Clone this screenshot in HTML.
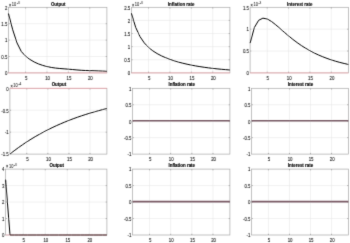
<!DOCTYPE html>
<html><head><meta charset="utf-8"><style>
html,body{margin:0;padding:0;background:#fff;width:350px;height:243px;overflow:hidden}
svg{display:block;font-family:"Liberation Sans",sans-serif}
</style></head><body>
<svg width="350" height="243" viewBox="0 0 350 243">
<defs><filter id="b" filterUnits="userSpaceOnUse" x="0" y="0" width="350" height="243"><feConvolveMatrix order="3" kernelMatrix="0.018 0.135 0.018 0.135 1 0.135 0.018 0.135 0.018" edgeMode="duplicate" preserveAlpha="false"/></filter></defs>
<rect width="350" height="243" fill="#fff"/>
<g filter="url(#b)">
<path d="M25.57 7.3V72.9M46.97 7.3V72.9M68.38 7.3V72.9M89.78 7.3V72.9M8.45 56.5H106.9M8.45 40.1H106.9M8.45 23.7H106.9" stroke="#e6e6e6" stroke-width="0.55" fill="none"/>
<path d="M25.57 72.9v-1.2M25.57 7.3v1.2M46.97 72.9v-1.2M46.97 7.3v1.2M68.38 72.9v-1.2M68.38 7.3v1.2M89.78 72.9v-1.2M89.78 7.3v1.2M8.45 56.5h1.2M106.9 56.5h-1.2M8.45 40.1h1.2M106.9 40.1h-1.2M8.45 23.7h1.2M106.9 23.7h-1.2" stroke="#777" stroke-width="0.6" fill="none"/>
<rect x="8.45" y="7.3" width="98.45" height="65.6" stroke="#a8a8a8" stroke-width="0.7" fill="none"/>
<polyline points="8.45,13.5 12.73,29.8 17.01,42.92 21.29,51.47 25.57,56.13 29.85,59.4 34.13,61.94 38.41,63.9 42.69,65.39 46.97,66.55 51.25,67.43 55.53,68.07 59.82,68.49 64.1,68.84 68.38,69.17 72.66,69.54 76.94,69.94 81.22,70.29 85.5,70.52 89.78,70.65 94.06,70.77 98.34,70.93 102.62,71.11 106.9,71.3" stroke="#000" stroke-width="1.0" fill="none" stroke-linejoin="round"/>
<path d="M8.45 72.9H106.9" stroke="rgb(255,150,160)" stroke-width="1.2" fill="none" opacity="0.45"/>
<path d="M148.53 7.3V72.9M169.94 7.3V72.9M191.36 7.3V72.9M212.77 7.3V72.9M131.4 59.78H229.9M131.4 46.66H229.9M131.4 33.54H229.9M131.4 20.42H229.9" stroke="#e6e6e6" stroke-width="0.55" fill="none"/>
<path d="M148.53 72.9v-1.2M148.53 7.3v1.2M169.94 72.9v-1.2M169.94 7.3v1.2M191.36 72.9v-1.2M191.36 7.3v1.2M212.77 72.9v-1.2M212.77 7.3v1.2M131.4 59.78h1.2M229.9 59.78h-1.2M131.4 46.66h1.2M229.9 46.66h-1.2M131.4 33.54h1.2M229.9 33.54h-1.2M131.4 20.42h1.2M229.9 20.42h-1.2" stroke="#777" stroke-width="0.6" fill="none"/>
<rect x="131.4" y="7.3" width="98.5" height="65.6" stroke="#a8a8a8" stroke-width="0.7" fill="none"/>
<polyline points="131.4,13.22 135.68,27.38 139.97,36.59 144.25,42.88 148.53,47.41 152.81,50.84 157.1,53.57 161.38,55.82 165.66,57.72 169.94,59.37 174.23,60.81 178.51,62.08 182.79,63.21 187.07,64.21 191.36,65.11 195.64,65.92 199.92,66.64 204.2,67.28 208.49,67.86 212.77,68.38 217.05,68.85 221.33,69.27 225.62,69.64 229.9,69.98" stroke="#000" stroke-width="1.0" fill="none" stroke-linejoin="round"/>
<path d="M131.4 72.9H229.9" stroke="rgb(255,150,160)" stroke-width="1.2" fill="none" opacity="0.45"/>
<path d="M267.2 7.3V72.9M288.57 7.3V72.9M309.93 7.3V72.9M331.3 7.3V72.9M250.1 51.03H348.4M250.1 29.17H348.4" stroke="#e6e6e6" stroke-width="0.55" fill="none"/>
<path d="M267.2 72.9v-1.2M267.2 7.3v1.2M288.57 72.9v-1.2M288.57 7.3v1.2M309.93 72.9v-1.2M309.93 7.3v1.2M331.3 72.9v-1.2M331.3 7.3v1.2M250.1 51.03h1.2M348.4 51.03h-1.2M250.1 29.17h1.2M348.4 29.17h-1.2" stroke="#777" stroke-width="0.6" fill="none"/>
<rect x="250.1" y="7.3" width="98.3" height="65.6" stroke="#a8a8a8" stroke-width="0.7" fill="none"/>
<polyline points="250.1,43.11 254.37,27.51 258.65,20.31 262.92,18.17 267.2,18.99 271.47,21.46 275.74,24.79 280.02,28.48 284.29,32.24 288.57,35.9 292.84,39.36 297.11,42.58 301.39,45.55 305.66,48.26 309.93,50.72 314.21,52.95 318.48,54.97 322.76,56.78 327.03,58.42 331.3,59.89 335.58,61.22 339.85,62.41 344.13,63.47 348.4,64.44" stroke="#000" stroke-width="1.0" fill="none" stroke-linejoin="round"/>
<path d="M250.1 72.9H348.4" stroke="rgb(255,150,160)" stroke-width="1.2" fill="none" opacity="0.45"/>
<path d="M26.77 88.3V154.1M47.86 88.3V154.1M68.94 88.3V154.1M90.03 88.3V154.1M9.9 132.17H106.9M9.9 110.23H106.9" stroke="#e6e6e6" stroke-width="0.55" fill="none"/>
<path d="M26.77 154.1v-1.2M26.77 88.3v1.2M47.86 154.1v-1.2M47.86 88.3v1.2M68.94 154.1v-1.2M68.94 88.3v1.2M90.03 154.1v-1.2M90.03 88.3v1.2M9.9 132.17h1.2M106.9 132.17h-1.2M9.9 110.23h1.2M106.9 110.23h-1.2" stroke="#777" stroke-width="0.6" fill="none"/>
<rect x="9.9" y="88.3" width="97" height="65.8" stroke="#a8a8a8" stroke-width="0.7" fill="none"/>
<polyline points="9.9,154.1 14.12,150.81 18.33,147.68 22.55,144.72 26.77,141.89 30.99,139.21 35.2,136.67 39.42,134.25 43.64,131.95 47.86,129.77 52.07,127.7 56.29,125.73 60.51,123.86 64.73,122.08 68.94,120.39 73.16,118.78 77.38,117.26 81.6,115.81 85.81,114.44 90.03,113.13 94.25,111.89 98.47,110.71 102.68,109.59 106.9,108.52" stroke="#000" stroke-width="1.0" fill="none" stroke-linejoin="round"/>
<path d="M9.9 88.3H106.9" stroke="rgb(255,150,160)" stroke-width="1.2" fill="none" opacity="0.45"/>
<path d="M149.52 88.3V154.1M170.67 88.3V154.1M191.83 88.3V154.1M212.98 88.3V154.1M132.6 137.65H229.9M132.6 121.2H229.9M132.6 104.75H229.9" stroke="#e6e6e6" stroke-width="0.55" fill="none"/>
<path d="M149.52 154.1v-1.2M149.52 88.3v1.2M170.67 154.1v-1.2M170.67 88.3v1.2M191.83 154.1v-1.2M191.83 88.3v1.2M212.98 154.1v-1.2M212.98 88.3v1.2M132.6 137.65h1.2M229.9 137.65h-1.2M132.6 121.2h1.2M229.9 121.2h-1.2M132.6 104.75h1.2M229.9 104.75h-1.2" stroke="#777" stroke-width="0.6" fill="none"/>
<rect x="132.6" y="88.3" width="97.3" height="65.8" stroke="#a8a8a8" stroke-width="0.7" fill="none"/>
<path d="M132.6 120.8H229.9" stroke="rgb(120,88,100)" stroke-width="1.6" fill="none"/>
<path d="M268.43 88.3V154.1M289.48 88.3V154.1M310.52 88.3V154.1M331.57 88.3V154.1M251.6 137.65H348.4M251.6 121.2H348.4M251.6 104.75H348.4" stroke="#e6e6e6" stroke-width="0.55" fill="none"/>
<path d="M268.43 154.1v-1.2M268.43 88.3v1.2M289.48 154.1v-1.2M289.48 88.3v1.2M310.52 154.1v-1.2M310.52 88.3v1.2M331.57 154.1v-1.2M331.57 88.3v1.2M251.6 137.65h1.2M348.4 137.65h-1.2M251.6 121.2h1.2M348.4 121.2h-1.2M251.6 104.75h1.2M348.4 104.75h-1.2" stroke="#777" stroke-width="0.6" fill="none"/>
<rect x="251.6" y="88.3" width="96.8" height="65.8" stroke="#a8a8a8" stroke-width="0.7" fill="none"/>
<path d="M251.6 120.8H348.4" stroke="rgb(120,88,100)" stroke-width="1.6" fill="none"/>
<path d="M23.22 169.1V235M45.24 169.1V235M67.26 169.1V235M89.28 169.1V235M5.6 218.53H106.9M5.6 202.05H106.9M5.6 185.57H106.9" stroke="#e6e6e6" stroke-width="0.55" fill="none"/>
<path d="M23.22 235v-1.2M23.22 169.1v1.2M45.24 235v-1.2M45.24 169.1v1.2M67.26 235v-1.2M67.26 169.1v1.2M89.28 235v-1.2M89.28 169.1v1.2M5.6 218.53h1.2M106.9 218.53h-1.2M5.6 202.05h1.2M106.9 202.05h-1.2M5.6 185.57h1.2M106.9 185.57h-1.2" stroke="#777" stroke-width="0.6" fill="none"/>
<rect x="5.6" y="169.1" width="101.3" height="65.9" stroke="#a8a8a8" stroke-width="0.7" fill="none"/>
<polyline points="5.6,179.64 10,235 14.41,235 18.81,235 23.22,235 27.62,235 32.03,235 36.43,235 40.83,235 45.24,235 49.64,235 54.05,235 58.45,235 62.86,235 67.26,235 71.67,235 76.07,235 80.47,235 84.88,235 89.28,235 93.69,235 98.09,235 102.5,235 106.9,235" stroke="#000" stroke-width="1.0" fill="none" stroke-linejoin="round"/>
<path d="M5.6 235H106.9" stroke="rgb(255,150,160)" stroke-width="1.2" fill="none" opacity="0.45"/>
<path d="M149.52 169.1V235M170.67 169.1V235M191.83 169.1V235M212.98 169.1V235M132.6 218.53H229.9M132.6 202.05H229.9M132.6 185.57H229.9" stroke="#e6e6e6" stroke-width="0.55" fill="none"/>
<path d="M149.52 235v-1.2M149.52 169.1v1.2M170.67 235v-1.2M170.67 169.1v1.2M191.83 235v-1.2M191.83 169.1v1.2M212.98 235v-1.2M212.98 169.1v1.2M132.6 218.53h1.2M229.9 218.53h-1.2M132.6 202.05h1.2M229.9 202.05h-1.2M132.6 185.57h1.2M229.9 185.57h-1.2" stroke="#777" stroke-width="0.6" fill="none"/>
<rect x="132.6" y="169.1" width="97.3" height="65.9" stroke="#a8a8a8" stroke-width="0.7" fill="none"/>
<path d="M132.6 201.65H229.9" stroke="rgb(120,88,100)" stroke-width="1.6" fill="none"/>
<path d="M268.43 169.1V235M289.48 169.1V235M310.52 169.1V235M331.57 169.1V235M251.6 218.53H348.4M251.6 202.05H348.4M251.6 185.57H348.4" stroke="#e6e6e6" stroke-width="0.55" fill="none"/>
<path d="M268.43 235v-1.2M268.43 169.1v1.2M289.48 235v-1.2M289.48 169.1v1.2M310.52 235v-1.2M310.52 169.1v1.2M331.57 235v-1.2M331.57 169.1v1.2M251.6 218.53h1.2M348.4 218.53h-1.2M251.6 202.05h1.2M348.4 202.05h-1.2M251.6 185.57h1.2M348.4 185.57h-1.2" stroke="#777" stroke-width="0.6" fill="none"/>
<rect x="251.6" y="169.1" width="96.8" height="65.9" stroke="#a8a8a8" stroke-width="0.7" fill="none"/>
<path d="M251.6 201.65H348.4" stroke="rgb(120,88,100)" stroke-width="1.6" fill="none"/>
<text transform="translate(26.17 79.8) scale(0.78 1)" text-anchor="middle" font-size="5.6" fill="#262626" stroke="#262626" stroke-width="0.12">5</text>
<text transform="translate(47.57 79.8) scale(0.78 1)" text-anchor="middle" font-size="5.6" fill="#262626" stroke="#262626" stroke-width="0.12">10</text>
<text transform="translate(68.98 79.8) scale(0.78 1)" text-anchor="middle" font-size="5.6" fill="#262626" stroke="#262626" stroke-width="0.12">15</text>
<text transform="translate(90.38 79.8) scale(0.78 1)" text-anchor="middle" font-size="5.6" fill="#262626" stroke="#262626" stroke-width="0.12">20</text>
<text transform="translate(7.35 75.2) scale(0.78 1)" text-anchor="end" font-size="5.6" fill="#262626" stroke="#262626" stroke-width="0.12">0</text>
<text transform="translate(7.35 58.8) scale(0.78 1)" text-anchor="end" font-size="5.6" fill="#262626" stroke="#262626" stroke-width="0.12">0.5</text>
<text transform="translate(7.35 42.4) scale(0.78 1)" text-anchor="end" font-size="5.6" fill="#262626" stroke="#262626" stroke-width="0.12">1</text>
<text transform="translate(7.35 26) scale(0.78 1)" text-anchor="end" font-size="5.6" fill="#262626" stroke="#262626" stroke-width="0.12">1.5</text>
<text transform="translate(7.35 9.6) scale(0.78 1)" text-anchor="end" font-size="5.6" fill="#262626" stroke="#262626" stroke-width="0.12">2</text>
<text transform="translate(58.18 5.5) scale(0.74 1)" text-anchor="middle" font-size="6.0" font-weight="bold" fill="#000" stroke="#000" stroke-width="0.18">Output</text>
<text transform="translate(8.95 6.5) scale(0.8 1)" text-anchor="start" font-size="5.0" fill="#262626" stroke="#262626" stroke-width="0.06">&#215;</text>
<text transform="translate(11.85 6.2) scale(0.8 1)" text-anchor="start" font-size="5.0" fill="#262626" stroke="#262626" stroke-width="0.06">10</text>
<text transform="translate(16.95 3.8) scale(0.8 1)" text-anchor="start" font-size="3.8" fill="#262626" stroke="#262626" stroke-width="0.06">-3</text>
<text transform="translate(149.13 79.8) scale(0.78 1)" text-anchor="middle" font-size="5.6" fill="#262626" stroke="#262626" stroke-width="0.12">5</text>
<text transform="translate(170.54 79.8) scale(0.78 1)" text-anchor="middle" font-size="5.6" fill="#262626" stroke="#262626" stroke-width="0.12">10</text>
<text transform="translate(191.96 79.8) scale(0.78 1)" text-anchor="middle" font-size="5.6" fill="#262626" stroke="#262626" stroke-width="0.12">15</text>
<text transform="translate(213.37 79.8) scale(0.78 1)" text-anchor="middle" font-size="5.6" fill="#262626" stroke="#262626" stroke-width="0.12">20</text>
<text transform="translate(130.3 75.2) scale(0.78 1)" text-anchor="end" font-size="5.6" fill="#262626" stroke="#262626" stroke-width="0.12">0</text>
<text transform="translate(130.3 62.08) scale(0.78 1)" text-anchor="end" font-size="5.6" fill="#262626" stroke="#262626" stroke-width="0.12">0.5</text>
<text transform="translate(130.3 48.96) scale(0.78 1)" text-anchor="end" font-size="5.6" fill="#262626" stroke="#262626" stroke-width="0.12">1</text>
<text transform="translate(130.3 35.84) scale(0.78 1)" text-anchor="end" font-size="5.6" fill="#262626" stroke="#262626" stroke-width="0.12">1.5</text>
<text transform="translate(130.3 22.72) scale(0.78 1)" text-anchor="end" font-size="5.6" fill="#262626" stroke="#262626" stroke-width="0.12">2</text>
<text transform="translate(130.3 9.6) scale(0.78 1)" text-anchor="end" font-size="5.6" fill="#262626" stroke="#262626" stroke-width="0.12">2.5</text>
<text transform="translate(181.15 5.5) scale(0.74 1)" text-anchor="middle" font-size="6.0" font-weight="bold" fill="#000" stroke="#000" stroke-width="0.18">Inflation rate</text>
<text transform="translate(131.9 6.5) scale(0.8 1)" text-anchor="start" font-size="5.0" fill="#262626" stroke="#262626" stroke-width="0.06">&#215;</text>
<text transform="translate(134.8 6.2) scale(0.8 1)" text-anchor="start" font-size="5.0" fill="#262626" stroke="#262626" stroke-width="0.06">10</text>
<text transform="translate(139.9 3.8) scale(0.8 1)" text-anchor="start" font-size="3.8" fill="#262626" stroke="#262626" stroke-width="0.06">-3</text>
<text transform="translate(267.8 79.8) scale(0.78 1)" text-anchor="middle" font-size="5.6" fill="#262626" stroke="#262626" stroke-width="0.12">5</text>
<text transform="translate(289.17 79.8) scale(0.78 1)" text-anchor="middle" font-size="5.6" fill="#262626" stroke="#262626" stroke-width="0.12">10</text>
<text transform="translate(310.53 79.8) scale(0.78 1)" text-anchor="middle" font-size="5.6" fill="#262626" stroke="#262626" stroke-width="0.12">15</text>
<text transform="translate(331.9 79.8) scale(0.78 1)" text-anchor="middle" font-size="5.6" fill="#262626" stroke="#262626" stroke-width="0.12">20</text>
<text transform="translate(249 75.2) scale(0.78 1)" text-anchor="end" font-size="5.6" fill="#262626" stroke="#262626" stroke-width="0.12">0</text>
<text transform="translate(249 53.33) scale(0.78 1)" text-anchor="end" font-size="5.6" fill="#262626" stroke="#262626" stroke-width="0.12">0.5</text>
<text transform="translate(249 31.47) scale(0.78 1)" text-anchor="end" font-size="5.6" fill="#262626" stroke="#262626" stroke-width="0.12">1</text>
<text transform="translate(249 9.6) scale(0.78 1)" text-anchor="end" font-size="5.6" fill="#262626" stroke="#262626" stroke-width="0.12">1.5</text>
<text transform="translate(299.75 5.5) scale(0.74 1)" text-anchor="middle" font-size="6.0" font-weight="bold" fill="#000" stroke="#000" stroke-width="0.18">Interest rate</text>
<text transform="translate(250.6 6.5) scale(0.8 1)" text-anchor="start" font-size="5.0" fill="#262626" stroke="#262626" stroke-width="0.06">&#215;</text>
<text transform="translate(253.5 6.2) scale(0.8 1)" text-anchor="start" font-size="5.0" fill="#262626" stroke="#262626" stroke-width="0.06">10</text>
<text transform="translate(258.6 3.8) scale(0.8 1)" text-anchor="start" font-size="3.8" fill="#262626" stroke="#262626" stroke-width="0.06">-3</text>
<text transform="translate(27.37 161) scale(0.78 1)" text-anchor="middle" font-size="5.6" fill="#262626" stroke="#262626" stroke-width="0.12">5</text>
<text transform="translate(48.46 161) scale(0.78 1)" text-anchor="middle" font-size="5.6" fill="#262626" stroke="#262626" stroke-width="0.12">10</text>
<text transform="translate(69.54 161) scale(0.78 1)" text-anchor="middle" font-size="5.6" fill="#262626" stroke="#262626" stroke-width="0.12">15</text>
<text transform="translate(90.63 161) scale(0.78 1)" text-anchor="middle" font-size="5.6" fill="#262626" stroke="#262626" stroke-width="0.12">20</text>
<text transform="translate(8.8 156.4) scale(0.78 1)" text-anchor="end" font-size="5.6" fill="#262626" stroke="#262626" stroke-width="0.12">-1.5</text>
<text transform="translate(8.8 134.47) scale(0.78 1)" text-anchor="end" font-size="5.6" fill="#262626" stroke="#262626" stroke-width="0.12">-1</text>
<text transform="translate(8.8 112.53) scale(0.78 1)" text-anchor="end" font-size="5.6" fill="#262626" stroke="#262626" stroke-width="0.12">-0.5</text>
<text transform="translate(8.8 90.6) scale(0.78 1)" text-anchor="end" font-size="5.6" fill="#262626" stroke="#262626" stroke-width="0.12">0</text>
<text transform="translate(58.9 86) scale(0.74 1)" text-anchor="middle" font-size="6.0" font-weight="bold" fill="#000" stroke="#000" stroke-width="0.18">Output</text>
<text transform="translate(10.4 87.5) scale(0.8 1)" text-anchor="start" font-size="5.0" fill="#262626" stroke="#262626" stroke-width="0.06">&#215;</text>
<text transform="translate(13.3 87.2) scale(0.8 1)" text-anchor="start" font-size="5.0" fill="#262626" stroke="#262626" stroke-width="0.06">10</text>
<text transform="translate(18.4 84.8) scale(0.8 1)" text-anchor="start" font-size="3.8" fill="#262626" stroke="#262626" stroke-width="0.06">-4</text>
<text transform="translate(150.12 161) scale(0.78 1)" text-anchor="middle" font-size="5.6" fill="#262626" stroke="#262626" stroke-width="0.12">5</text>
<text transform="translate(171.27 161) scale(0.78 1)" text-anchor="middle" font-size="5.6" fill="#262626" stroke="#262626" stroke-width="0.12">10</text>
<text transform="translate(192.43 161) scale(0.78 1)" text-anchor="middle" font-size="5.6" fill="#262626" stroke="#262626" stroke-width="0.12">15</text>
<text transform="translate(213.58 161) scale(0.78 1)" text-anchor="middle" font-size="5.6" fill="#262626" stroke="#262626" stroke-width="0.12">20</text>
<text transform="translate(131.5 156.4) scale(0.78 1)" text-anchor="end" font-size="5.6" fill="#262626" stroke="#262626" stroke-width="0.12">-1</text>
<text transform="translate(131.5 139.95) scale(0.78 1)" text-anchor="end" font-size="5.6" fill="#262626" stroke="#262626" stroke-width="0.12">-0.5</text>
<text transform="translate(131.5 123.5) scale(0.78 1)" text-anchor="end" font-size="5.6" fill="#262626" stroke="#262626" stroke-width="0.12">0</text>
<text transform="translate(131.5 107.05) scale(0.78 1)" text-anchor="end" font-size="5.6" fill="#262626" stroke="#262626" stroke-width="0.12">0.5</text>
<text transform="translate(131.5 90.6) scale(0.78 1)" text-anchor="end" font-size="5.6" fill="#262626" stroke="#262626" stroke-width="0.12">1</text>
<text transform="translate(181.75 86) scale(0.74 1)" text-anchor="middle" font-size="6.0" font-weight="bold" fill="#000" stroke="#000" stroke-width="0.18">Inflation rate</text>
<text transform="translate(269.03 161) scale(0.78 1)" text-anchor="middle" font-size="5.6" fill="#262626" stroke="#262626" stroke-width="0.12">5</text>
<text transform="translate(290.08 161) scale(0.78 1)" text-anchor="middle" font-size="5.6" fill="#262626" stroke="#262626" stroke-width="0.12">10</text>
<text transform="translate(311.12 161) scale(0.78 1)" text-anchor="middle" font-size="5.6" fill="#262626" stroke="#262626" stroke-width="0.12">15</text>
<text transform="translate(332.17 161) scale(0.78 1)" text-anchor="middle" font-size="5.6" fill="#262626" stroke="#262626" stroke-width="0.12">20</text>
<text transform="translate(250.5 156.4) scale(0.78 1)" text-anchor="end" font-size="5.6" fill="#262626" stroke="#262626" stroke-width="0.12">-1</text>
<text transform="translate(250.5 139.95) scale(0.78 1)" text-anchor="end" font-size="5.6" fill="#262626" stroke="#262626" stroke-width="0.12">-0.5</text>
<text transform="translate(250.5 123.5) scale(0.78 1)" text-anchor="end" font-size="5.6" fill="#262626" stroke="#262626" stroke-width="0.12">0</text>
<text transform="translate(250.5 107.05) scale(0.78 1)" text-anchor="end" font-size="5.6" fill="#262626" stroke="#262626" stroke-width="0.12">0.5</text>
<text transform="translate(250.5 90.6) scale(0.78 1)" text-anchor="end" font-size="5.6" fill="#262626" stroke="#262626" stroke-width="0.12">1</text>
<text transform="translate(300.5 86) scale(0.74 1)" text-anchor="middle" font-size="6.0" font-weight="bold" fill="#000" stroke="#000" stroke-width="0.18">Interest rate</text>
<text transform="translate(23.82 241.9) scale(0.78 1)" text-anchor="middle" font-size="5.6" fill="#262626" stroke="#262626" stroke-width="0.12">5</text>
<text transform="translate(45.84 241.9) scale(0.78 1)" text-anchor="middle" font-size="5.6" fill="#262626" stroke="#262626" stroke-width="0.12">10</text>
<text transform="translate(67.86 241.9) scale(0.78 1)" text-anchor="middle" font-size="5.6" fill="#262626" stroke="#262626" stroke-width="0.12">15</text>
<text transform="translate(89.88 241.9) scale(0.78 1)" text-anchor="middle" font-size="5.6" fill="#262626" stroke="#262626" stroke-width="0.12">20</text>
<text transform="translate(4.5 237.3) scale(0.78 1)" text-anchor="end" font-size="5.6" fill="#262626" stroke="#262626" stroke-width="0.12">0</text>
<text transform="translate(4.5 220.83) scale(0.78 1)" text-anchor="end" font-size="5.6" fill="#262626" stroke="#262626" stroke-width="0.12">1</text>
<text transform="translate(4.5 204.35) scale(0.78 1)" text-anchor="end" font-size="5.6" fill="#262626" stroke="#262626" stroke-width="0.12">2</text>
<text transform="translate(4.5 187.88) scale(0.78 1)" text-anchor="end" font-size="5.6" fill="#262626" stroke="#262626" stroke-width="0.12">3</text>
<text transform="translate(4.5 171.4) scale(0.78 1)" text-anchor="end" font-size="5.6" fill="#262626" stroke="#262626" stroke-width="0.12">4</text>
<text transform="translate(56.75 167.3) scale(0.74 1)" text-anchor="middle" font-size="6.0" font-weight="bold" fill="#000" stroke="#000" stroke-width="0.18">Output</text>
<text transform="translate(6.1 168.3) scale(0.8 1)" text-anchor="start" font-size="5.0" fill="#262626" stroke="#262626" stroke-width="0.06">&#215;</text>
<text transform="translate(9 168) scale(0.8 1)" text-anchor="start" font-size="5.0" fill="#262626" stroke="#262626" stroke-width="0.06">10</text>
<text transform="translate(14.1 165.6) scale(0.8 1)" text-anchor="start" font-size="3.8" fill="#262626" stroke="#262626" stroke-width="0.06">-3</text>
<text transform="translate(150.12 241.9) scale(0.78 1)" text-anchor="middle" font-size="5.6" fill="#262626" stroke="#262626" stroke-width="0.12">5</text>
<text transform="translate(171.27 241.9) scale(0.78 1)" text-anchor="middle" font-size="5.6" fill="#262626" stroke="#262626" stroke-width="0.12">10</text>
<text transform="translate(192.43 241.9) scale(0.78 1)" text-anchor="middle" font-size="5.6" fill="#262626" stroke="#262626" stroke-width="0.12">15</text>
<text transform="translate(213.58 241.9) scale(0.78 1)" text-anchor="middle" font-size="5.6" fill="#262626" stroke="#262626" stroke-width="0.12">20</text>
<text transform="translate(131.5 237.3) scale(0.78 1)" text-anchor="end" font-size="5.6" fill="#262626" stroke="#262626" stroke-width="0.12">-1</text>
<text transform="translate(131.5 220.83) scale(0.78 1)" text-anchor="end" font-size="5.6" fill="#262626" stroke="#262626" stroke-width="0.12">-0.5</text>
<text transform="translate(131.5 204.35) scale(0.78 1)" text-anchor="end" font-size="5.6" fill="#262626" stroke="#262626" stroke-width="0.12">0</text>
<text transform="translate(131.5 187.88) scale(0.78 1)" text-anchor="end" font-size="5.6" fill="#262626" stroke="#262626" stroke-width="0.12">0.5</text>
<text transform="translate(131.5 171.4) scale(0.78 1)" text-anchor="end" font-size="5.6" fill="#262626" stroke="#262626" stroke-width="0.12">1</text>
<text transform="translate(181.75 167.3) scale(0.74 1)" text-anchor="middle" font-size="6.0" font-weight="bold" fill="#000" stroke="#000" stroke-width="0.18">Inflation rate</text>
<text transform="translate(269.03 241.9) scale(0.78 1)" text-anchor="middle" font-size="5.6" fill="#262626" stroke="#262626" stroke-width="0.12">5</text>
<text transform="translate(290.08 241.9) scale(0.78 1)" text-anchor="middle" font-size="5.6" fill="#262626" stroke="#262626" stroke-width="0.12">10</text>
<text transform="translate(311.12 241.9) scale(0.78 1)" text-anchor="middle" font-size="5.6" fill="#262626" stroke="#262626" stroke-width="0.12">15</text>
<text transform="translate(332.17 241.9) scale(0.78 1)" text-anchor="middle" font-size="5.6" fill="#262626" stroke="#262626" stroke-width="0.12">20</text>
<text transform="translate(250.5 237.3) scale(0.78 1)" text-anchor="end" font-size="5.6" fill="#262626" stroke="#262626" stroke-width="0.12">-1</text>
<text transform="translate(250.5 220.83) scale(0.78 1)" text-anchor="end" font-size="5.6" fill="#262626" stroke="#262626" stroke-width="0.12">-0.5</text>
<text transform="translate(250.5 204.35) scale(0.78 1)" text-anchor="end" font-size="5.6" fill="#262626" stroke="#262626" stroke-width="0.12">0</text>
<text transform="translate(250.5 187.88) scale(0.78 1)" text-anchor="end" font-size="5.6" fill="#262626" stroke="#262626" stroke-width="0.12">0.5</text>
<text transform="translate(250.5 171.4) scale(0.78 1)" text-anchor="end" font-size="5.6" fill="#262626" stroke="#262626" stroke-width="0.12">1</text>
<text transform="translate(300.5 167.3) scale(0.74 1)" text-anchor="middle" font-size="6.0" font-weight="bold" fill="#000" stroke="#000" stroke-width="0.18">Interest rate</text>
</g>
</svg>
</body></html>
